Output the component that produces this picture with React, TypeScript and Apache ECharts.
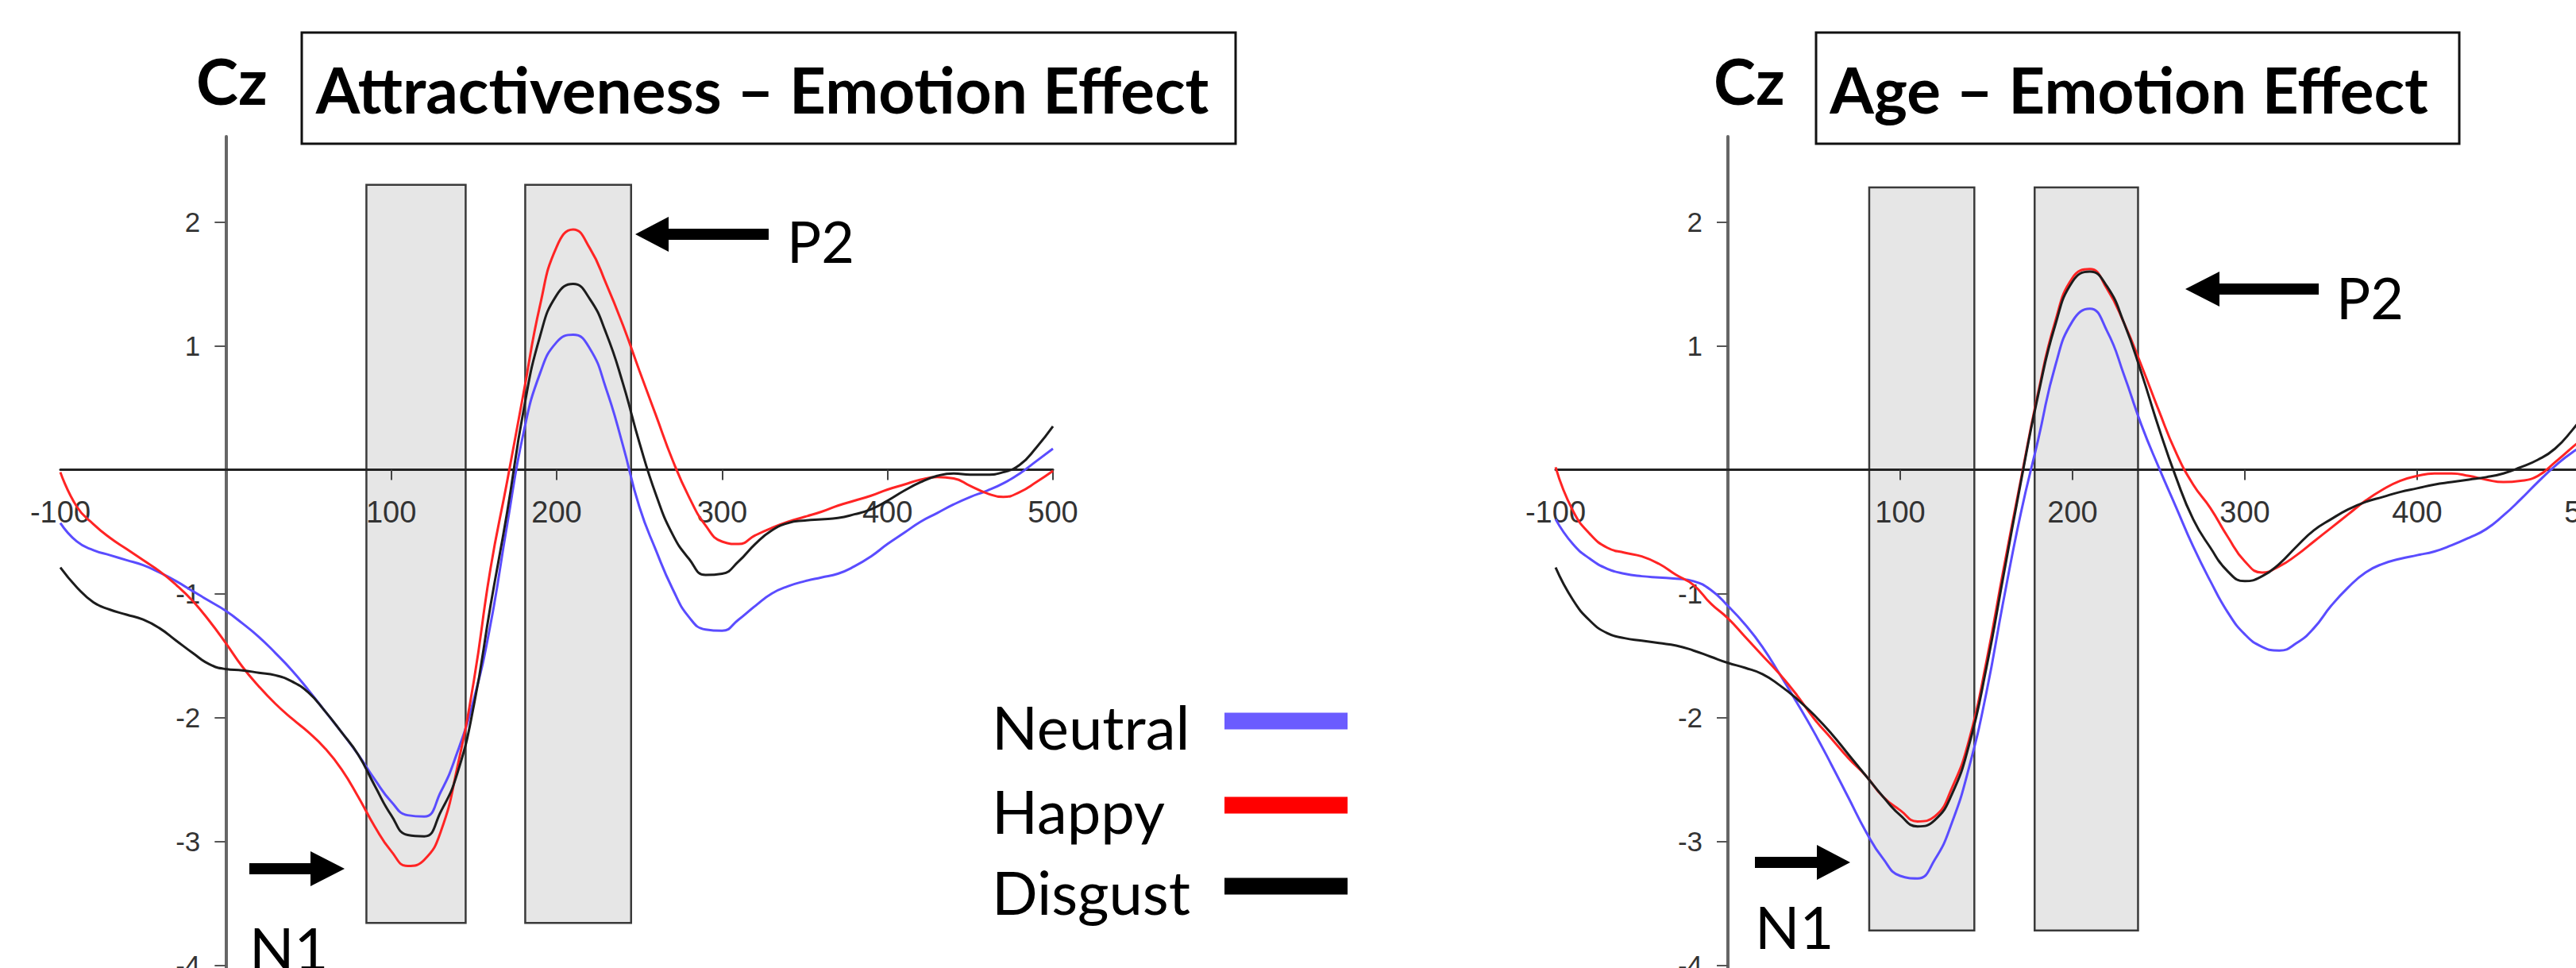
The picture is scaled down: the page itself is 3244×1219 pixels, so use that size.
import React, { useEffect, useRef } from "react";
import * as echarts from "echarts";

// ---------- data ----------
const TIMES = [
  -100, -90, -80, -70, -60, -50, -40, -30, -20, -10,
  0, 10, 20, 30, 40, 50, 60, 70, 80, 90,
  100, 110, 120, 130, 140, 150, 160, 170, 180, 190,
  200, 210, 220, 230, 240, 250, 260, 270, 280, 290,
  300, 310, 320, 330, 340, 350, 360, 370, 380, 390,
  400, 410, 420, 430, 440, 450, 460, 470, 480, 490,
  500,
];

// Attractiveness – Emotion Effect (Cz), µV
const ATTR_NEUTRAL = [
  -0.43, -0.58, -0.65, -0.69, -0.73, -0.77, -0.83, -0.9, -0.98, -1.06,
  -1.14, -1.24, -1.35, -1.48, -1.62, -1.78, -1.95, -2.12, -2.3, -2.5,
  -2.68, -2.79, -2.8, -2.6, -2.28, -1.85, -1.25, -0.45, 0.3, 0.78,
  1.03, 1.09, 0.98, 0.65, 0.2, -0.3, -0.65, -0.96, -1.19, -1.29,
  -1.3, -1.21, -1.1, -1.0, -0.94, -0.9, -0.87, -0.84, -0.78, -0.7,
  -0.6, -0.51, -0.42, -0.35, -0.28, -0.22, -0.17, -0.11, -0.03, 0.07,
  0.17,
];
const ATTR_HAPPY = [
  -0.02, -0.3, -0.44, -0.55, -0.64, -0.73, -0.82, -0.93, -1.06, -1.22,
  -1.4, -1.59, -1.75, -1.89, -2.01, -2.12, -2.25, -2.42, -2.64, -2.88,
  -3.08, -3.2, -3.15, -2.92, -2.4, -1.7, -0.8, -0.1, 0.62, 1.33,
  1.8, 1.94, 1.79, 1.5, 1.17, 0.8, 0.44, 0.08, -0.22, -0.45,
  -0.58, -0.6, -0.53, -0.47, -0.42, -0.38, -0.34, -0.29, -0.25, -0.21,
  -0.16, -0.12, -0.08, -0.06, -0.07, -0.13, -0.19, -0.22, -0.18, -0.1,
  -0.01,
];
const ATTR_DISGUST = [
  -0.79, -0.95, -1.07, -1.13, -1.17, -1.21, -1.28, -1.38, -1.48, -1.57,
  -1.61, -1.62, -1.64, -1.66, -1.71, -1.8, -1.95, -2.12, -2.3, -2.55,
  -2.79, -2.95, -2.96, -2.76, -2.45, -1.9, -1.1, -0.35, 0.48, 1.08,
  1.41, 1.5, 1.38, 1.1, 0.7, 0.22, -0.2, -0.52, -0.72, -0.85,
  -0.84, -0.74, -0.6, -0.49, -0.43, -0.41, -0.4, -0.39, -0.36, -0.32,
  -0.25, -0.17, -0.1, -0.05, -0.03, -0.04, -0.04, -0.02, 0.04, 0.18,
  0.35,
];

// Age – Emotion Effect (Cz), µV
const AGE_NEUTRAL = [
  -0.4, -0.6, -0.72, -0.8, -0.84, -0.86, -0.87, -0.88, -0.9, -0.97,
  -1.1, -1.25, -1.43, -1.65, -1.88, -2.12, -2.38, -2.65, -2.92, -3.14,
  -3.28, -3.3, -3.15, -2.85, -2.4, -1.8, -1.05, -0.35, 0.24, 0.84,
  1.2, 1.3, 1.12, 0.76, 0.36, 0.02, -0.3, -0.62, -0.9, -1.15,
  -1.33, -1.43, -1.46, -1.4, -1.28, -1.1, -0.95, -0.83, -0.76, -0.72,
  -0.69, -0.66, -0.61, -0.55, -0.48, -0.37, -0.24, -0.1, 0.03, 0.14,
  0.22,
];
const AGE_HAPPY = [
  0.02, -0.33, -0.52, -0.63, -0.67, -0.7, -0.76, -0.85, -0.93, -1.08,
  -1.2, -1.35, -1.5, -1.65, -1.82, -2.01, -2.17, -2.33, -2.47, -2.64,
  -2.75, -2.84, -2.8, -2.57, -2.18, -1.55, -0.8, -0.08, 0.62, 1.2,
  1.55, 1.62, 1.46, 1.18, 0.84, 0.48, 0.14, -0.12, -0.31, -0.54,
  -0.74, -0.83, -0.78, -0.69, -0.58, -0.47, -0.36, -0.25, -0.16, -0.09,
  -0.05, -0.03, -0.03, -0.05, -0.08, -0.1, -0.09, -0.05, 0.06, 0.18,
  0.3,
];
const AGE_DISGUST = [
  -0.79, -1.05, -1.22, -1.32, -1.36, -1.38, -1.4, -1.42, -1.46, -1.51,
  -1.56, -1.6, -1.65, -1.74, -1.85, -1.98, -2.13, -2.3, -2.47, -2.64,
  -2.79, -2.88, -2.83, -2.62, -2.22, -1.6, -0.85, -0.1, 0.6, 1.17,
  1.52, 1.6, 1.48, 1.18, 0.78, 0.34, -0.06, -0.4, -0.63, -0.82,
  -0.9, -0.86, -0.76, -0.62, -0.49, -0.4, -0.32, -0.26, -0.22, -0.18,
  -0.15, -0.12, -0.1, -0.08, -0.06, -0.03, 0.02, 0.08, 0.17, 0.32,
  0.5,
];

// analysis windows (ms): N1 and P2
const ATTR_WINDOWS = [[85, 145], [181, 245]];
const AGE_WINDOWS = [[82, 143], [178, 238]];

const SERIES_NAMES = ["Neutral", "Happy", "Disgust"];
const PANEL_TITLES = ["Attractiveness – Emotion Effect", "Age – Emotion Effect"];
const ELECTRODE = "Cz";
const PEAK_LABELS = ["N1", "P2"];
const X_LABEL_VALUES = [-100, 100, 200, 300, 400, 500];
const X_TICK_VALUES = [100, 200, 300, 400, 500];
const Y_TICK_VALUES = [-4, -3, -2, -1, 1, 2];
const X_MIN = -100;
const X_MAX = 500;
const Y_MIN = -4.03;
const Y_MAX = 2.69;

// ---------- styles / layout ----------
const LINE_COLORS = ["#5a4cff", "#ff2424", "#1c1c1c"];
const LEGEND_COLORS = ["#6b5cff", "#ff0000", "#000000"];
const CAL_FONT = "Lato, 'Noto Sans', sans-serif";
const AXIS_FONT = "'Liberation Sans', Arial, sans-serif";

const PANELS = [
  {
    series: [ATTR_NEUTRAL, ATTR_HAPPY, ATTR_DISGUST],
    windows: ATTR_WINDOWS,
    winTop: 2.3,
    winBottom: -3.66,
    grid: { left: 76, top: 172, width: 1250, height: 1048 },
    box: { x: 380, y: 41, w: 1176, h: 140 },
    titleX: 960,
    czX: 247,
    p2Arrow: { tip: 800, y: 295, base: 842, tail: 968 },
    p2Text: { x: 991, y: 303 },
    n1Arrow: { tip: 434, y: 1094, base: 391, tail: 314 },
    n1Text: { x: 314, y: 1193 },
  },
  {
    series: [AGE_NEUTRAL, AGE_HAPPY, AGE_DISGUST],
    windows: AGE_WINDOWS,
    winTop: 2.28,
    winBottom: -3.72,
    grid: { left: 1959, top: 172, width: 1302, height: 1048 },
    box: { x: 2287, y: 41, w: 810, h: 140 },
    titleX: 2681,
    czX: 2158,
    p2Arrow: { tip: 2752, y: 364, base: 2795, tail: 2920 },
    p2Text: { x: 2942, y: 374 },
    n1Arrow: { tip: 2330, y: 1086, base: 2288, tail: 2210 },
    n1Text: { x: 2210, y: 1166 },
  },
];

const LEGEND_LAYOUT = { textX: 1249, swatchX: 1542, swatchW: 155, swatchH: 21, centers: [908, 1014, 1116] };

function arrowPoints(tip: number, y: number, base: number, tail: number, headHalf = 22, shaftHalf = 7) {
  return [
    [tip, y],
    [base, y - headHalf],
    [base, y - shaftHalf],
    [tail, y - shaftHalf],
    [tail, y + shaftHalf],
    [base, y + shaftHalf],
    [base, y + headHalf],
  ];
}

function buildOption() {
  const grids: any[] = [];
  const xAxes: any[] = [];
  const yAxes: any[] = [];
  const series: any[] = [];
  const graphics: any[] = [];

  PANELS.forEach((p, i) => {
    const g = p.grid;
    // distance of the zero lines from the grid's bottom / left edges
    const zeroFromBottom = (0 - Y_MIN) / (Y_MAX - Y_MIN) * g.height;
    const zeroFromLeft = (0 - X_MIN) / (X_MAX - X_MIN) * g.width;

    grids.push({ ...g, containLabel: false, outerBoundsMode: "none", show: false });
    xAxes.push({
      type: "value",
      gridIndex: i,
      position: "bottom",
      offset: -zeroFromBottom,
      min: X_MIN,
      max: X_MAX,
      interval: 100,
      z: 1.5,
      axisLine: { onZero: false, lineStyle: { color: "#222", width: 3 } },
      axisTick: { show: true, customValues: X_TICK_VALUES, length: 13, lineStyle: { color: "#444", width: 2 } },
      axisLabel: {
        show: true,
        customValues: X_LABEL_VALUES,
        margin: 34,
        fontSize: 38,
        color: "#333",
        fontFamily: AXIS_FONT,
      },
      splitLine: { show: false },
    });
    yAxes.push({
      type: "value",
      gridIndex: i,
      position: "left",
      offset: -zeroFromLeft,
      min: Y_MIN,
      max: Y_MAX,
      z: 1.5,
      axisLine: { show: true, onZero: false, lineStyle: { color: "#666", width: 4 } },
      axisTick: { show: true, customValues: Y_TICK_VALUES, length: 14, lineStyle: { color: "#555", width: 2 } },
      axisLabel: {
        show: true,
        customValues: Y_TICK_VALUES,
        margin: 32,
        fontSize: 35,
        color: "#333",
        fontFamily: AXIS_FONT,
      },
      splitLine: { show: false },
    });

    p.series.forEach((vals, k) => {
      const s: any = {
        name: SERIES_NAMES[k],
        type: "line",
        xAxisIndex: i,
        yAxisIndex: i,
        data: TIMES.map((t, j) => [t, vals[j]]),
        smooth: 0.5,
        showSymbol: false,
        symbol: "none",
        silent: true,
        z: 3,
        lineStyle: { color: LINE_COLORS[k], width: 3 },
        itemStyle: { color: LEGEND_COLORS[k] },
      };
      if (k === 0) {
        s.markArea = {
          silent: true,
          z: 1,
          itemStyle: { color: "#e6e6e6", borderColor: "#3a3a3a", borderWidth: 2.5 },
          label: { show: false },
          data: p.windows.map((w) => [
            { coord: [w[0], p.winTop] },
            { coord: [w[1], p.winBottom] },
          ]),
        };
      }
      series.push(s);
    });

    // title box
    graphics.push({
      type: "rect",
      shape: { x: p.box.x, y: p.box.y, width: p.box.w, height: p.box.h },
      style: { fill: "#ffffff", stroke: "#111", lineWidth: 3 },
      z: 10,
    });
    graphics.push({
      type: "text",
      x: p.titleX,
      y: 112,
      z: 11,
      style: {
        text: PANEL_TITLES[i],
        fontSize: 80,
        fontWeight: "bold",
        fontFamily: CAL_FONT,
        fill: "#000",
        align: "center",
        verticalAlign: "middle",
      },
    });
    graphics.push({
      type: "text",
      x: p.czX,
      y: 101,
      z: 11,
      style: {
        text: ELECTRODE,
        fontSize: 80,
        fontWeight: "bold",
        fontFamily: CAL_FONT,
        fill: "#000",
        align: "left",
        verticalAlign: "middle",
      },
    });
    // P2 arrow + label
    graphics.push({
      type: "polygon",
      z: 11,
      shape: { points: arrowPoints(p.p2Arrow.tip, p.p2Arrow.y, p.p2Arrow.base, p.p2Arrow.tail) },
      style: { fill: "#000" },
    });
    graphics.push({
      type: "text",
      x: p.p2Text.x,
      y: p.p2Text.y,
      z: 11,
      style: {
        text: PEAK_LABELS[1],
        fontSize: 72,
        fontFamily: CAL_FONT,
        fill: "#000",
        align: "left",
        verticalAlign: "middle",
      },
    });
    // N1 arrow + label
    graphics.push({
      type: "polygon",
      z: 11,
      shape: { points: arrowPoints(p.n1Arrow.tip, p.n1Arrow.y, p.n1Arrow.base, p.n1Arrow.tail) },
      style: { fill: "#000" },
    });
    graphics.push({
      type: "text",
      x: p.n1Text.x,
      y: p.n1Text.y,
      z: 11,
      style: {
        text: PEAK_LABELS[0],
        fontSize: 74,
        fontFamily: CAL_FONT,
        fill: "#000",
        align: "left",
        verticalAlign: "middle",
      },
    });
  });

  // legend (text left, swatch right)
  SERIES_NAMES.forEach((name, k) => {
    const cy = LEGEND_LAYOUT.centers[k];
    graphics.push({
      type: "text",
      x: LEGEND_LAYOUT.textX,
      y: cy + 6,
      z: 11,
      style: {
        text: name,
        fontSize: 76,
        fontFamily: CAL_FONT,
        fill: "#000",
        align: "left",
        verticalAlign: "middle",
      },
    });
    graphics.push({
      type: "rect",
      z: 11,
      shape: {
        x: LEGEND_LAYOUT.swatchX,
        y: cy - LEGEND_LAYOUT.swatchH / 2,
        width: LEGEND_LAYOUT.swatchW,
        height: LEGEND_LAYOUT.swatchH,
      },
      style: { fill: LEGEND_COLORS[k] },
    });
  });

  return {
    animation: false,
    backgroundColor: "#ffffff",
    grid: grids,
    xAxis: xAxes,
    yAxis: yAxes,
    series,
    graphic: graphics,
  };
}

export default function App() {
  const ref = useRef<HTMLDivElement>(null);
  useEffect(() => {
    if (!ref.current) return;
    const chart = echarts.init(ref.current, null, { renderer: "svg" });
    chart.setOption(buildOption());
    return () => chart.dispose();
  }, []);
  return (
    <div
      ref={ref}
      style={{ position: "fixed", left: 0, top: 0, width: "3244px", height: "1219px", background: "#fff" }}
    />
  );
}
